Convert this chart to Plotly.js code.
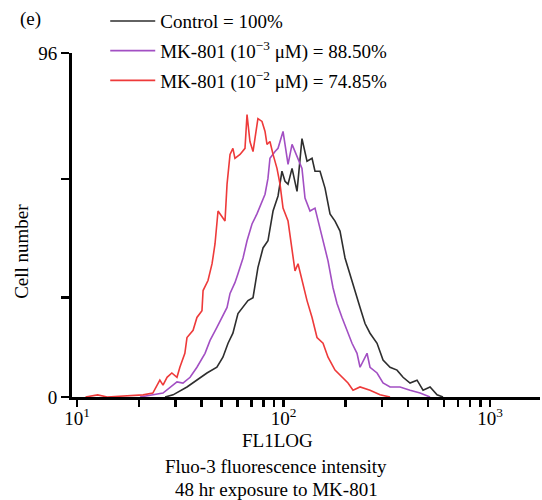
<!DOCTYPE html>
<html>
<head>
<meta charset="utf-8">
<script src="https://cdn.plot.ly/plotly-3.0.1.min.js"></script>
<style>html,body{margin:0;padding:0;background:#fff;}#chart{width:542px;height:500px;}</style>
</head>
<body>
<div id="chart"></div>
<script>
// FL1LOG intensity (x) and cell counts (y)
var controlX = [26.7, 29.2, 34.1, 38.1, 42.6, 47.6, 50.9, 53.9, 56.9, 60.2, 63.7, 67.3, 71.2, 75.2, 79.6, 84.1, 89.0, 94.1, 98.3, 101.7, 105.2, 110.0, 116.3, 122.9, 130.0, 137.5, 142.1, 150.3, 158.9, 168.0, 177.6, 187.8, 198.6, 210.0, 222.0, 234.8, 248.2, 262.4, 283.8, 303.4, 328.1, 354.6, 379.2, 410.0, 443.3, 474.0, 512.5, 554.1, 592.2];
var controlY = [0, 0.6, 2.8, 4.7, 6.7, 8.3, 11.1, 15.0, 17.8, 23.3, 25.0, 26.9, 27.7, 36.1, 41.6, 43.6, 51.9, 56.1, 63.0, 60.2, 59.4, 63.8, 57.4, 72.1, 65.8, 66.6, 63.0, 63.0, 58.3, 51.1, 49.1, 46.3, 38.8, 34.4, 29.7, 25.0, 20.5, 17.8, 15.0, 10.3, 8.3, 7.5, 5.5, 3.9, 4.7, 1.9, 2.8, 0.6, 0];

var mk3X = [20.2, 26.1, 30.5, 32.6, 35.3, 38.1, 41.7, 44.1, 47.6, 50.4, 53.3, 55.1, 58.2, 60.2, 63.7, 66.6, 70.4, 74.4, 78.7, 81.4, 84.1, 86.0, 91.0, 94.1, 99.5, 101.7, 105.2, 110.0, 113.7, 117.6, 122.9, 127.1, 134.4, 142.1, 150.3, 155.4, 164.3, 173.7, 181.6, 192.0, 203.1, 214.7, 227.0, 234.8, 253.8, 262.4, 283.8, 303.4, 328.1, 366.7, 410.0, 458.4, 512.5];
var mk3Y = [0, 1.1, 4.2, 3.9, 5.5, 8.3, 12.2, 15.8, 19.4, 22.2, 25.0, 28.9, 31.9, 34.4, 38.8, 43.6, 48.3, 51.1, 54.7, 56.6, 61.0, 66.6, 68.5, 69.4, 74.1, 70.5, 64.9, 70.5, 68.5, 66.6, 63.8, 55.5, 51.9, 52.7, 47.2, 43.6, 38.0, 30.5, 26.1, 22.2, 18.6, 15.0, 12.2, 8.3, 12.2, 8.3, 6.7, 3.9, 2.8, 2.8, 1.9, 1.1, 0];

var mk2X = [11.0, 12.6, 14.0, 20.9, 23.3, 25.2, 26.1, 27.3, 28.8, 30.5, 31.5, 33.3, 34.1, 36.5, 38.1, 40.3, 40.8, 43.1, 45.1, 46.6, 48.2, 50.9, 52.1, 53.3, 55.1, 56.9, 58.2, 61.6, 65.1, 66.6, 68.8, 71.2, 75.2, 78.7, 81.4, 83.2, 86.0, 89.0, 93.0, 96.2, 99.5, 105.2, 110.0, 113.7, 117.6, 122.9, 130.0, 137.5, 145.3, 155.4, 164.3, 177.6, 192.0, 205.3, 217.1, 234.8, 262.4, 293.4, 328.1];
var mk2Y = [0, 0.6, 0, 0.6, 1.1, 4.7, 3.3, 5.5, 6.7, 5.5, 8.3, 12.2, 16.6, 18.6, 22.2, 24.1, 29.7, 32.5, 37.2, 42.7, 51.9, 49.9, 49.1, 59.4, 67.7, 69.4, 66.6, 67.7, 69.4, 78.8, 71.3, 68.5, 77.7, 76.9, 74.1, 70.5, 71.3, 67.7, 63.8, 59.4, 52.7, 49.1, 41.6, 35.2, 37.2, 32.5, 26.9, 22.2, 16.6, 15.0, 11.1, 7.5, 5.5, 3.9, 1.9, 2.8, 1.9, 0.6, 0];

var seriesNames = ['Control = 100%', 'MK-801 (10<sup>\u22123</sup> \u03bcM) = 88.50%', 'MK-801 (10<sup>\u22122</sup> \u03bcM) = 74.85%'];
var seriesColors = ['#2e2e2e', '#a24fc3', '#ee3a3a'];

var xTickVals = [10, 100, 1000];
var xTickText = ['10<sup>1</sup>', '10<sup>2</sup>', '10<sup>3</sup>'];
var xMinorVals = [20, 30, 40, 50, 60, 70, 80, 90, 200, 300, 400, 500, 600, 700, 800, 900];
var yTickVals = [0, 96];
var yTickText = ['0', '96'];
var yMinorVals = [27.7, 60.8];

var FONT = 'Liberation Serif, Times New Roman, serif';

var xs = [controlX, mk3X, mk2X];
var ys = [controlY, mk3Y, mk2Y];
var traces = xs.map(function (x, i) {
  return {
    x: x, y: ys[i], type: 'scatter', mode: 'lines',
    name: seriesNames[i], legendgroup: 'g' + i,
    line: {color: seriesColors[i], width: 1.6}
  };
});

var layout = {
  width: 542, height: 500,
  margin: {l: 72, r: 2, t: 51, b: 103},
  paper_bgcolor: '#fff', plot_bgcolor: '#fff',
  font: {family: FONT, size: 19, color: '#000'},
  showlegend: true,
  legend: {
    x: 0.071, y: 1.148, xanchor: 'left', yanchor: 'top',
    bgcolor: 'rgba(0,0,0,0)', borderwidth: 0,
    font: {family: FONT, size: 19, color: '#000'},
    itemwidth: 45, tracegroupgap: 2, traceorder: 'grouped'
  },
  xaxis: {
    type: 'log', range: [0.976, 3.242],
    showgrid: false, zeroline: false,
    showline: true, linecolor: '#000', linewidth: 3,
    ticks: 'outside', ticklen: 7, tickwidth: 2.5, tickcolor: '#000',
    tickvals: xTickVals, ticktext: xTickText, ticklabelstandoff: -5,
    minor: {tickvals: xMinorVals, ticks: 'outside', ticklen: 7, tickwidth: 2.5, tickcolor: '#000', showgrid: false},
    tickfont: {family: FONT, size: 19, color: '#000'}
  },
  yaxis: {
    range: [0, 96],
    showgrid: false, zeroline: false,
    showline: true, linecolor: '#000', linewidth: 3,
    ticks: 'outside', ticklen: 8, tickwidth: 2.5, tickcolor: '#000',
    tickvals: yTickVals, ticktext: yTickText,
    minor: {tickvals: yMinorVals, ticks: 'outside', ticklen: 8, tickwidth: 2.5, tickcolor: '#000', showgrid: false},
    tickfont: {family: FONT, size: 19, color: '#000'}
  },
  annotations: [
    {text: '(e)', xref: 'paper', yref: 'paper', x: 0, y: 1, xshift: -42, yshift: 34, showarrow: false, xanchor: 'center', yanchor: 'middle', font: {family: FONT, size: 19}},
    {text: 'Cell number', xref: 'paper', yref: 'paper', x: 0, y: 0.422, xshift: -50, textangle: -90, showarrow: false, xanchor: 'center', yanchor: 'middle', font: {family: FONT, size: 19}},
    {text: 'FL1LOG', xref: 'paper', yref: 'paper', x: 0.44, y: 0, yshift: -43, showarrow: false, xanchor: 'center', yanchor: 'middle', font: {family: FONT, size: 19}},
    {text: 'Fluo-3 fluorescence intensity', xref: 'paper', yref: 'paper', x: 0.436, y: 0, yshift: -69, showarrow: false, xanchor: 'center', yanchor: 'middle', font: {family: FONT, size: 19}},
    {text: '48 hr exposure to MK-801', xref: 'paper', yref: 'paper', x: 0.436, y: 0, yshift: -92, showarrow: false, xanchor: 'center', yanchor: 'middle', font: {family: FONT, size: 19}}
  ]
};

Plotly.newPlot('chart', traces, layout, {displayModeBar: false, staticPlot: true});
</script>
</body>
</html>
